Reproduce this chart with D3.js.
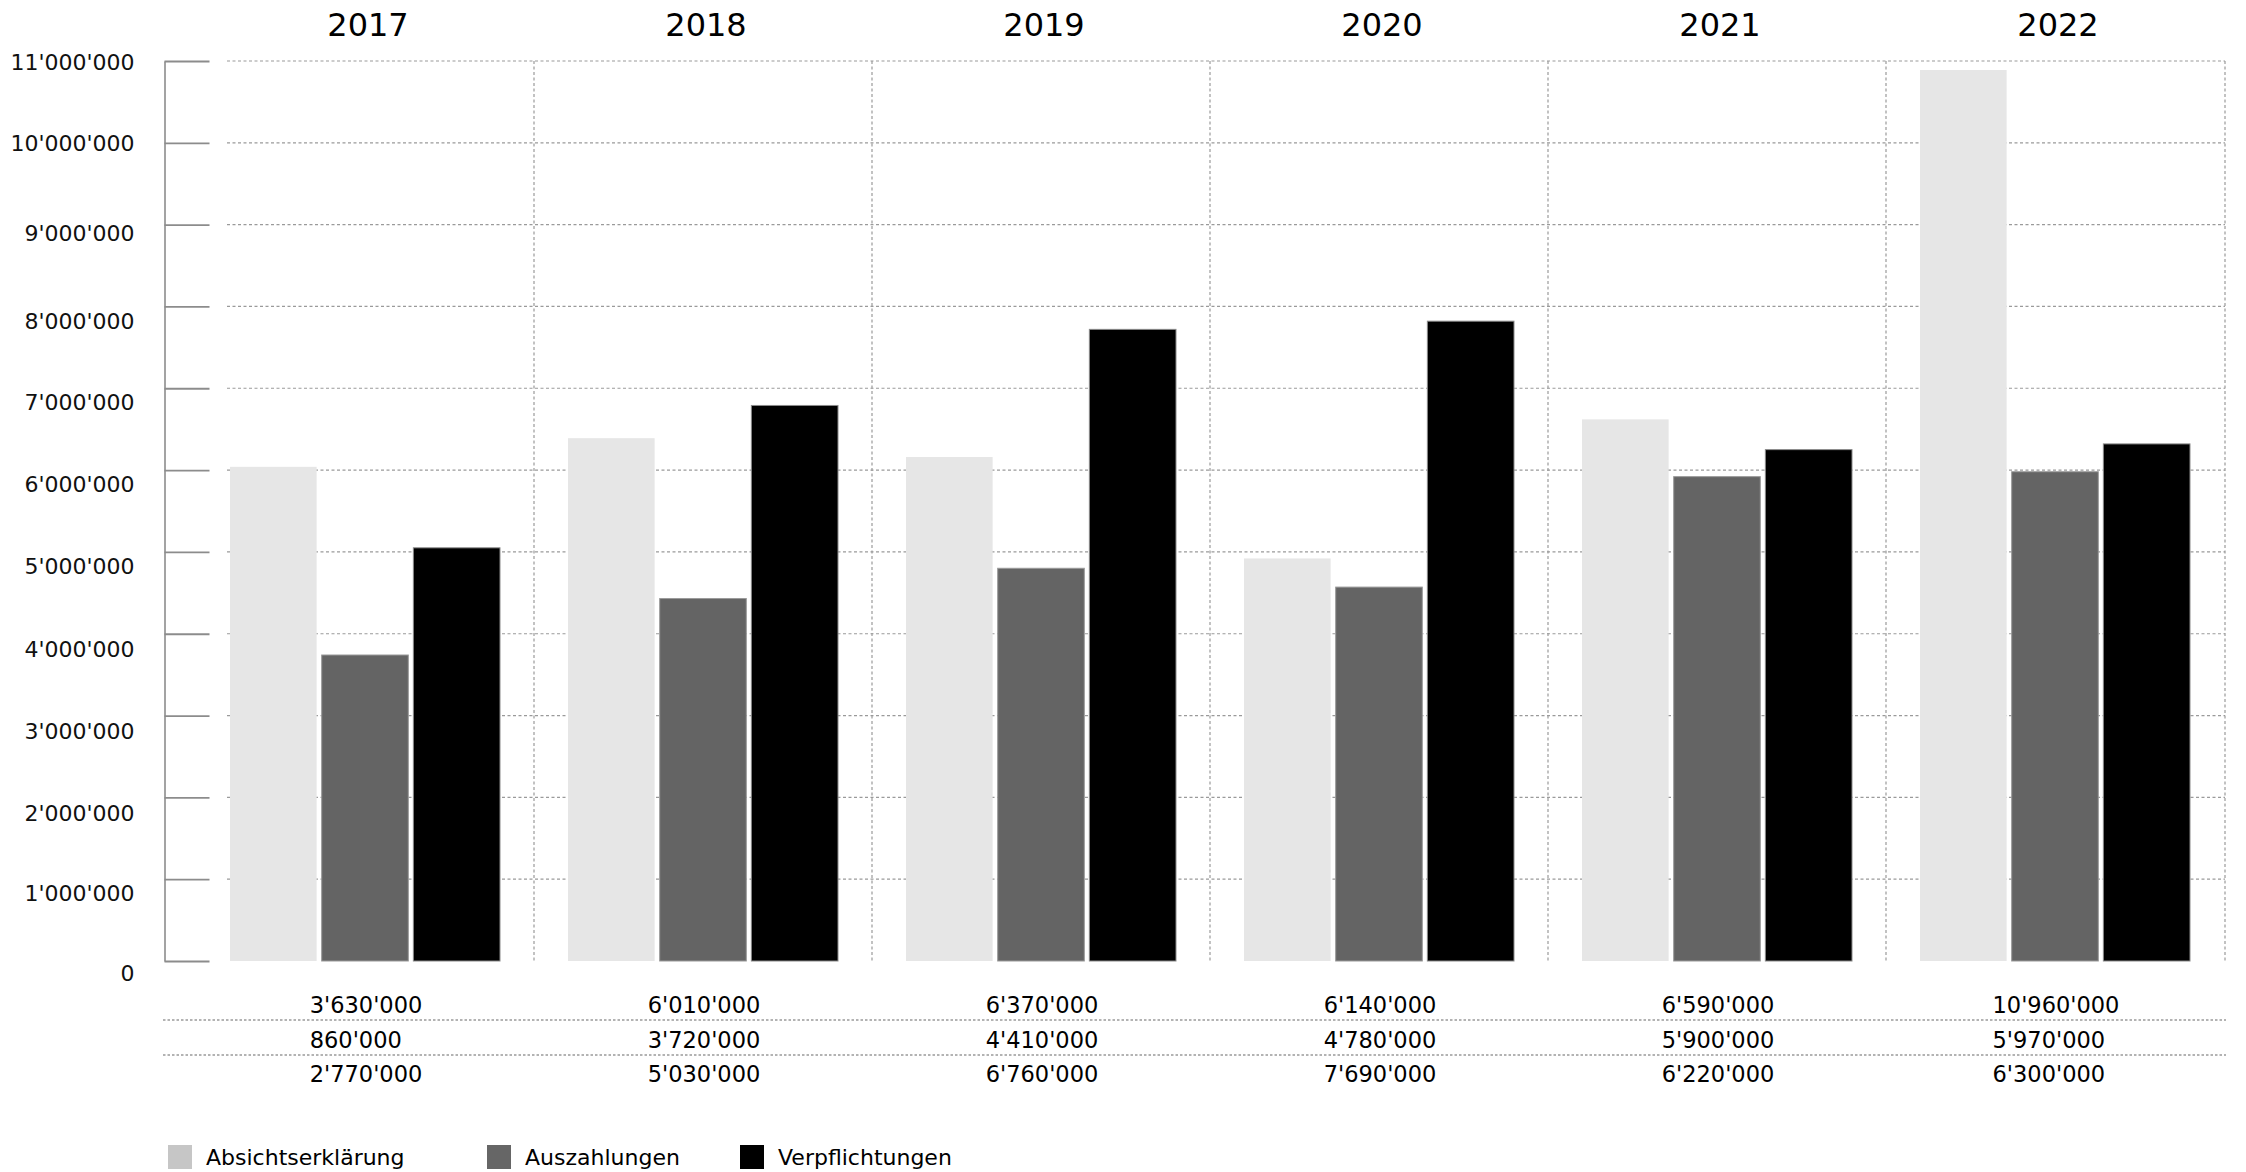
<!DOCTYPE html>
<html>
<head>
<meta charset="utf-8">
<script src="https://cdn.jsdelivr.net/npm/d3@7"></script>
<style>
  html, body { margin: 0; padding: 0; background: #fff; }
  svg { display: block; font-family: "DejaVu Sans", sans-serif; }
</style>
</head>
<body>
<svg id="chart" width="2246" height="1172"></svg>
<script>
// ---- data ----
const years = ["2017", "2018", "2019", "2020", "2021", "2022"];
const seriesNames = ["Absichtserklärung", "Auszahlungen", "Verpflichtungen"];
const absichtserklaerung = [6040000, 6390000, 6160000, 4920000, 6620000, 10890000];
const auszahlungen      = [3740000, 4430000, 4800000, 4570000, 5920000, 5980000];
const verpflichtungen   = [5050000, 6790000, 7720000, 7820000, 6250000, 6320000];
// table values printed under the chart
const tableAbsicht = [3630000, 6010000, 6370000, 6140000, 6590000, 10960000];
const tableAusz    = [860000, 3720000, 4410000, 4780000, 5900000, 5970000];
const tableVerpf   = [2770000, 5030000, 6760000, 7690000, 6220000, 6300000];
const yTicks = [0, 1000000, 2000000, 3000000, 4000000, 5000000, 6000000, 7000000, 8000000, 9000000, 10000000, 11000000];

const seriesValues = [absichtserklaerung, auszahlungen, verpflichtungen];
const tableRows = [tableAbsicht, tableAusz, tableVerpf];
const barColors = ["#e6e6e6", "#646464", "#000000"];
const barStroke = ["none", "#9a9a9a", "#8a8a8a"];
const legendColors = ["#c6c6c6", "#666666", "#000000"];
// vertical offset (px) of each tick label below its tick, as in the original layout
const tickLabelShift = [12, 13, 15, 15, 15, 14, 14, 13, 14, 8, 0, 1];

const fmt = v => d3.format(",")(v).replace(/,/g, "'");

const svg = d3.select("#chart");

const x0 = d3.scaleBand().domain(years).range([196, 2224]).paddingInner(0).paddingOuter(0);
const groupW = 270;
const x1 = d3.scaleBand().domain(seriesNames).range([0, groupW]).paddingInner(0.055).paddingOuter(0);
const y = d3.scaleLinear().domain([0, 11000000]).range([961, 61]);
const gridLeft = 227, gridRight = 2225;

// horizontal gridlines
svg.append("g").selectAll("line")
  .data(yTicks.filter(t => t > 0))
  .join("line")
  .attr("x1", gridLeft).attr("x2", gridRight)
  .attr("y1", d => y(d)).attr("y2", d => y(d))
  .attr("stroke", "#9a9a9a").attr("stroke-width", 1.2)
  .attr("stroke-dasharray", "3,2.5");

// vertical dividers
const divX = years.slice(1).map(yv => x0(yv)).concat([gridRight]);
svg.append("g").selectAll("line")
  .data(divX)
  .join("line")
  .attr("x1", d => d).attr("x2", d => d)
  .attr("y1", y(11000000)).attr("y2", y(0))
  .attr("stroke", "#9a9a9a").attr("stroke-width", 1.2)
  .attr("stroke-dasharray", "3,2.5");

// y axis
const axis = svg.append("g")
  .attr("transform", "translate(164.5,0)")
  .call(d3.axisLeft(y).tickValues(yTicks).tickSize(-45).tickSizeOuter(0).tickPadding(30).tickFormat(fmt));
axis.select(".domain").attr("stroke", "#8c8c8c").attr("stroke-width", 1.6);
axis.selectAll(".tick line").attr("stroke", "#8c8c8c").attr("stroke-width", 1.8);
axis.selectAll(".tick text")
  .attr("y", (d, i) => tickLabelShift[i])
  .attr("dy", "0.36em")
  .attr("fill", "#111")
  .style("font-size", "22px")
  .style("font-family", "DejaVu Sans, sans-serif");

// bars
const groups = svg.append("g").selectAll("g")
  .data(years)
  .join("g")
  .attr("transform", d => `translate(${x0(d) + (x0.bandwidth() - groupW) / 2},0)`);
groups.selectAll("rect")
  .data((d, i) => seriesNames.map((s, k) => ({ s, k, v: seriesValues[k][i] })))
  .join("rect")
  .attr("x", d => x1(d.s))
  .attr("y", d => y(d.v))
  .attr("width", x1.bandwidth())
  .attr("height", d => y(0) - y(d.v))
  .attr("fill", d => barColors[d.k])
  .attr("stroke", d => barStroke[d.k])
  .attr("stroke-width", 1);

// year titles
svg.append("g").selectAll("text")
  .data(years)
  .join("text")
  .attr("x", d => x0(d) + x0.bandwidth() / 2 + 3)
  .attr("y", 36)
  .attr("text-anchor", "middle")
  .style("font-size", "32px")
  .attr("fill", "#000")
  .text(d => d);

// table separators
[1020, 1055].forEach(yy => {
  svg.append("line")
    .attr("x1", 163).attr("x2", 2226)
    .attr("y1", yy).attr("y2", yy)
    .attr("stroke", "#9a9a9a").attr("stroke-width", 1.5)
    .attr("stroke-dasharray", "2.5,2");
});

// table values
const rowBase = [1013, 1048, 1082];
const tableG = svg.append("g");
years.forEach((yr, j) => {
  const cx = x0(yr) + x0.bandwidth() / 2;
  const texts = tableRows.map((row, i) =>
    tableG.append("text")
      .attr("x", cx)
      .attr("y", rowBase[i])
      .style("font-size", "22.5px")
      .attr("fill", "#000")
      .text(fmt(row[j]))
  );
  const maxW = d3.max(texts, t => t.node().getComputedTextLength());
  texts.forEach(t => t.attr("x", cx - maxW / 2 + 1));
});

// legend
const legendX = [168, 487, 740];
const lg = svg.append("g").selectAll("g")
  .data(seriesNames)
  .join("g")
  .attr("transform", (d, i) => `translate(${legendX[i]},1145)`);
lg.append("rect")
  .attr("width", 24).attr("height", 24)
  .attr("fill", (d, i) => legendColors[i]);
lg.append("text")
  .attr("x", 38).attr("y", 20)
  .style("font-size", "22px")
  .attr("fill", "#000")
  .text(d => d);
</script>
</body>
</html>
